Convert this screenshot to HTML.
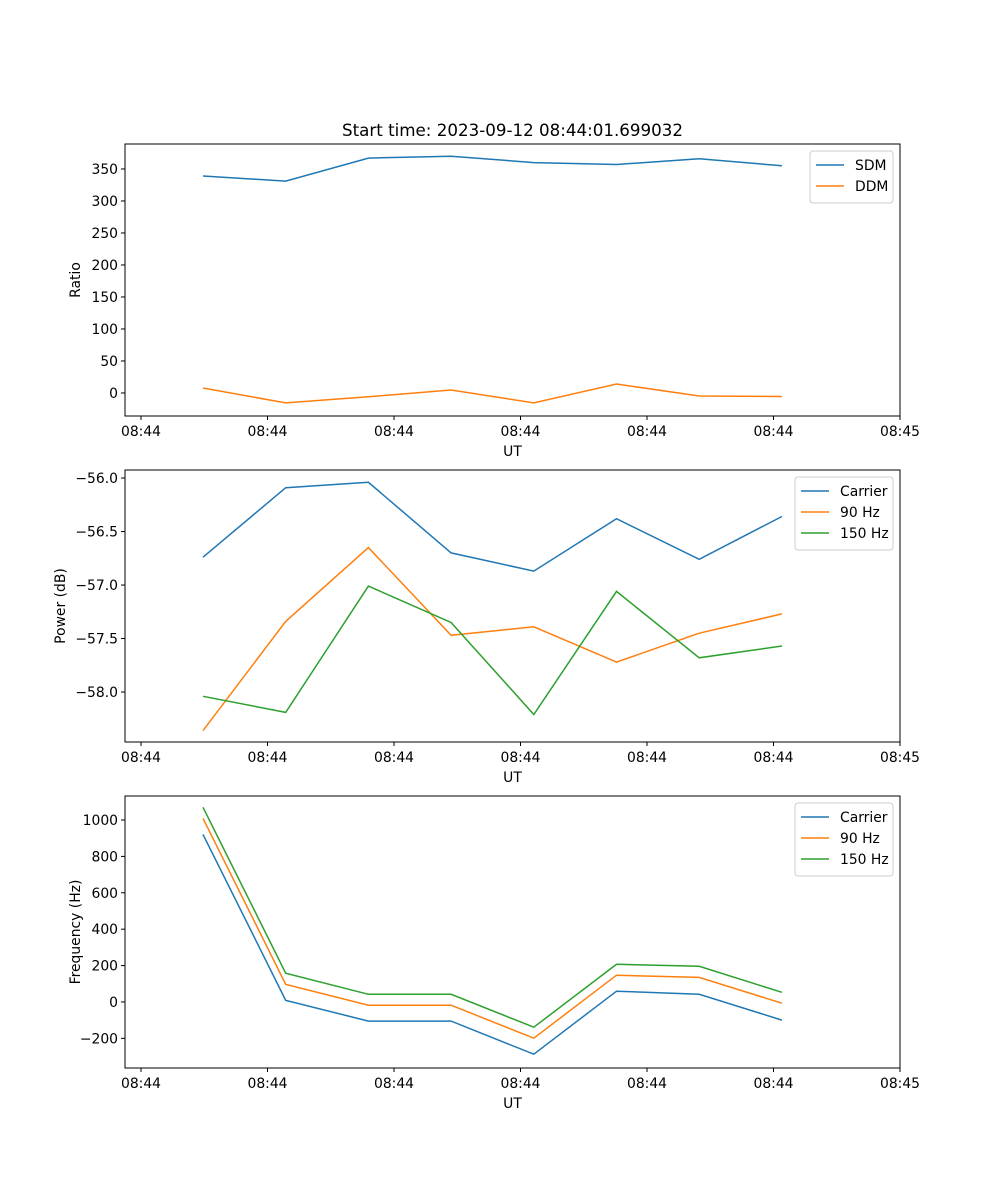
<!DOCTYPE html>
<html><head><meta charset="utf-8"><style>
html,body{margin:0;padding:0;background:#fff;}
svg{display:block;font-family:"DejaVu Sans","Liberation Sans",sans-serif;}
</style></head><body>
<svg id="fig" width="1000" height="1200" viewBox="0 0 1000 1200"></svg>
<script>
const times = [0,1,2,3,4,5,6,7];
const xTickLabels = ["08:44","08:44","08:44","08:44","08:44","08:44","08:45"];
const sdm = [339,331,367,370,360,357,366,355];
const ddm = [7.8,-15.6,-6,4.7,-15.6,14,-4.7,-5.5];
const powCarrier = [-56.74,-56.09,-56.04,-56.70,-56.87,-56.38,-56.76,-56.36];
const pow90 = [-58.36,-57.34,-56.65,-57.47,-57.39,-57.72,-57.45,-57.27];
const pow150 = [-58.04,-58.19,-57.01,-57.35,-58.21,-57.06,-57.68,-57.57];
const freqCarrier = [921,9,-105,-105,-287,59,42,-100];
const freq90 = [1009,97,-18,-18,-199,147,135,-7];
const freq150 = [1070,158,42,42,-139,207,196,53];
const ratioTicks = [0,50,100,150,200,250,300,350];
const powerTicks = [-58.0,-57.5,-57.0,-56.5,-56.0];
const freqTicks = [-200,0,200,400,600,800,1000];

const NS="http://www.w3.org/2000/svg";
const svg=document.getElementById('fig');
function el(t,a,p){const e=document.createElementNS(NS,t);for(const k in a)e.setAttribute(k,a[k]);(p||svg).appendChild(e);return e;}
const C=['#1f77b4','#ff7f0e','#2ca02c'];
const L=125,R=900;
function xs(i){return 203+i*82.7;}

function panel(name,top,bot,ymin,ymax,yticks,ylabel,decimals,series,legend,title){
  const g=el('g',{});  
  const ys=v=>bot-(v-ymin)/(ymax-ymin)*(bot-top);
  series.forEach((s,si)=>{
    const pts=s.vals.map((v,i)=>xs(times[i]).toFixed(1)+','+ys(v).toFixed(1)).join(' ');
    const p=el('polyline',{points:pts,fill:'none',stroke:C[si],'stroke-width':1.5},g);
     
  });
  const fr=el('rect',{x:L,y:top,width:R-L,height:bot-top,fill:'none',stroke:'#000','stroke-width':1},g);
   
  xTickLabels.forEach((lab,k)=>{
    const x=141+k*126.5;
    el('line',{x1:x,y1:bot,x2:x,y2:bot+4,stroke:'#000'},g);
    const t=el('text',{x:x,y:bot+20,'font-size':13.9,'text-anchor':'middle',fill:'#000'},g);
    t.textContent=lab;  
  });
  yticks.forEach(v=>{
    const y=ys(v);
    el('line',{x1:L-4,y1:y,x2:L,y2:y,stroke:'#000'},g);
    const t=el('text',{x:L-7,y:y+5,'font-size':13.9,'text-anchor':'end',fill:'#000'},g);
    t.textContent=(v<0?'\u2212':'')+(decimals?Math.abs(v).toFixed(1):Math.abs(v));
     
  });
  const xl=el('text',{x:(L+R)/2,y:bot+40,'font-size':13.9,'text-anchor':'middle'},g);
  xl.textContent='UT';  
  const yx=decimals?65:80;
  const yl=el('text',{x:yx,y:(top+bot)/2,'font-size':13.9,'text-anchor':'middle',transform:`rotate(-90 ${yx} ${(top+bot)/2})`},g);
  yl.textContent=ylabel;  
  if(title){const tt=el('text',{x:(L+R)/2,y:top-8,'font-size':16.7,'text-anchor':'middle'},g);
    tt.textContent=title;  }
  const lw=legend.w, lh=legend.n*21+10, lx=R-7-lw, ly=top+7;
  const lg=el('g',{},g);  
  el('rect',{x:lx,y:ly,width:lw,height:lh,rx:3,fill:'#fff','fill-opacity':0.8,stroke:'#ccc'},lg);
  series.forEach((s,si)=>{
    const yy=ly+14+si*21;
    el('line',{x1:lx+6,y1:yy,x2:lx+34,y2:yy,stroke:C[si],'stroke-width':1.5},lg);
    const t=el('text',{x:lx+45,y:yy+5,'font-size':13.9},lg);
    t.textContent=s.label;  
  });
}
panel('ratio-panel',144,416,-36,389,ratioTicks,'Ratio',false,
  [{name:'sdm',label:'SDM',vals:sdm},{name:'ddm',label:'DDM',vals:ddm}],{n:2,w:83},
  'Start time: 2023-09-12 08:44:01.699032');
panel('power-panel',470,742,-58.467,-55.925,powerTicks,'Power (dB)',true,
  [{name:'carrier',label:'Carrier',vals:powCarrier},{name:'90hz',label:'90 Hz',vals:pow90},{name:'150hz',label:'150 Hz',vals:pow150}],{n:3,w:98});
panel('frequency-panel',796,1068,-363,1132,freqTicks,'Frequency (Hz)',false,
  [{name:'carrier',label:'Carrier',vals:freqCarrier},{name:'90hz',label:'90 Hz',vals:freq90},{name:'150hz',label:'150 Hz',vals:freq150}],{n:3,w:98});
</script>
</body></html>
